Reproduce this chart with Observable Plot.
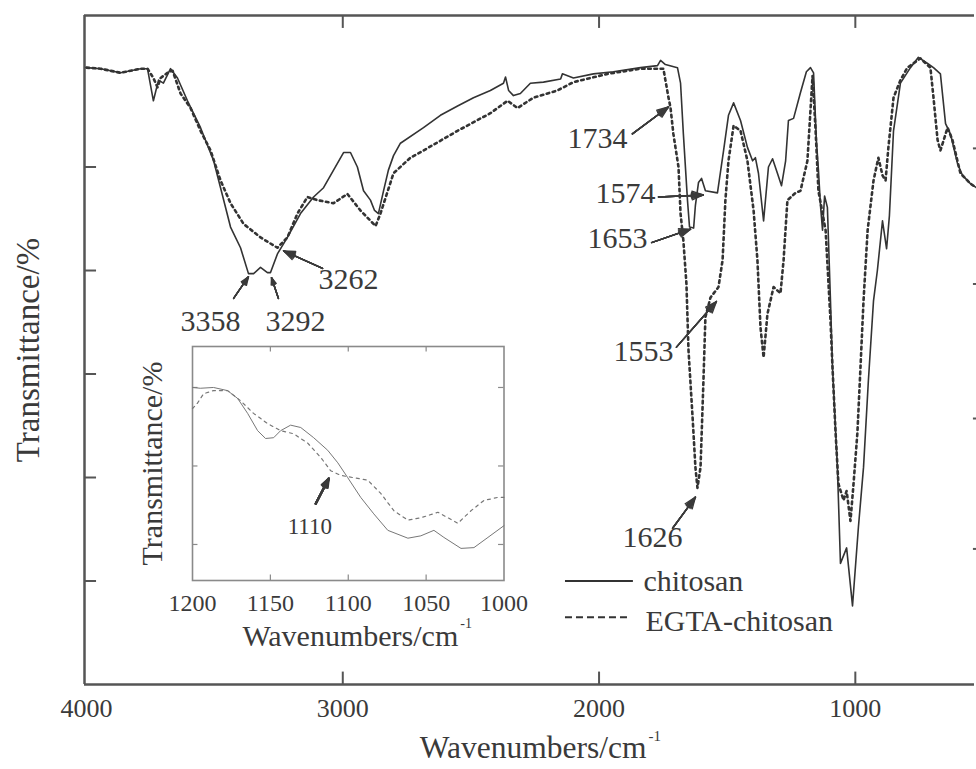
<!DOCTYPE html>
<html><head><meta charset="utf-8">
<script src="https://cdn.jsdelivr.net/npm/d3@7"></script>
<script src="https://cdn.jsdelivr.net/npm/@observablehq/plot@0.6"></script>
<style>
html,body{margin:0;padding:0;background:#fff;overflow:hidden}
#wrap{position:relative;width:976px;height:769px}
#inset{position:absolute;left:120px;top:330px}
</style></head><body>
<div id="wrap"><div id="main"></div><div id="inset"></div></div>
<script>
// ---- main spectrum data (wavenumber cm-1, transmittance a.u.) ----
const chitosanWn = [4000,3945,3867,3789,3762,3739,3719,3700,3672,3645,3606,3555,3504,3477,3438,3399,3368,3348,3321,3294,3282,3255,3216,3165,3114,3075,3036,2997,2970,2943,2919,2892,2876,2861,2841,2822,2802,2775,2685,2619,2552,2490,2424,2373,2365,2353,2334,2307,2268,2217,2150,2143,2100,2022,1944,1838,1772,1760,1741,1694,1682,1671,1655,1647,1631,1624,1612,1600,1585,1538,1514,1495,1475,1448,1421,1401,1390,1378,1358,1339,1323,1304,1288,1272,1261,1241,1214,1191,1175,1163,1152,1144,1136,1128,1120,1109,1097,1089,1070,1058,1034,1011,988,968,949,929,914,894,878,867,851,824,785,754,718,695,668,648,629,601,582,551,528];
const chitosanT = [59.6,59.5,59.1,59.5,59.5,56.4,58.4,58.1,59.5,58.6,56.4,53.8,50.6,48.0,44.2,42.2,39.7,39.7,40.3,39.8,39.8,41.6,43.2,45.5,47.1,48.0,49.7,51.4,51.4,50.0,47.7,46.8,45.8,45.5,47.7,49.7,51.1,52.3,53.8,55.0,55.9,56.7,57.4,58.1,58.7,57.4,56.9,57.1,58.1,58.2,58.5,59.0,58.6,59.0,59.2,59.6,59.8,60.3,59.9,59.6,58.1,53.2,46.8,44.2,44.1,46.3,48.5,48.9,47.7,47.5,51.6,55.0,56.2,54.5,51.9,50.6,50.9,49.4,44.8,50.0,50.8,49.4,48.2,50.6,54.5,54.7,57.2,59.2,59.6,59.1,52.6,49.7,46.3,43.9,47.2,46.1,37.1,30.6,21.0,11.7,13.2,7.6,15.2,21.0,29.4,37.1,40.0,44.8,42.1,45.3,53.5,58.1,59.6,60.6,60.0,59.6,59.0,54.2,53.2,50.3,49.2,48.4,48.0];
const egtaWn = [4000,3945,3867,3789,3762,3739,3723,3711,3684,3664,3633,3594,3555,3516,3477,3438,3387,3321,3255,3216,3177,3138,3099,3036,2982,2931,2872,2853,2802,2736,2685,2552,2424,2357,2318,2256,2162,2100,1967,1838,1749,1729,1721,1710,1690,1682,1671,1659,1651,1635,1624,1616,1604,1593,1585,1565,1534,1518,1507,1495,1475,1448,1421,1397,1382,1370,1358,1343,1319,1292,1280,1265,1233,1214,1187,1175,1167,1155,1144,1116,1097,1089,1077,1066,1046,1034,1019,1007,992,980,968,952,929,910,894,882,871,851,824,797,746,707,695,679,668,640,621,590,551,528];
const egtaT = [59.6,59.5,59.1,59.5,59.5,58.6,57.7,58.6,59.1,59.3,57.1,55.7,53.5,51.6,48.7,46.5,44.5,43.2,42.2,43.2,45.5,47.1,46.8,46.5,47.4,45.8,44.3,45.5,49.4,50.9,51.6,53.5,55.2,56.4,55.7,56.7,57.4,58.2,59.0,59.5,59.5,56.7,55.7,53.2,50.0,45.5,42.9,38.7,32.3,25.8,21.0,19.0,21.0,29.1,35.5,37.4,38.4,41.0,46.8,50.6,54.0,53.5,50.6,45.8,41.0,34.5,31.6,35.8,38.4,37.8,41.0,46.8,47.5,47.7,50.6,55.5,58.8,53.5,47.7,43.9,35.2,30.6,24.3,19.4,17.8,18.7,15.8,19.4,24.3,30.6,37.1,43.9,48.7,50.9,49.2,48.7,51.9,56.7,58.4,59.6,60.5,59.6,56.7,52.6,51.6,53.8,52.6,49.4,48.4,48.0];

// ---- inset data (1200-1000 cm-1) ----
const insetChitosanWn = [1200,1195,1186.5,1177.5,1171,1164.6,1158.2,1153.1,1147.9,1143.4,1137,1130.5,1122.2,1113.2,1106.7,1100.3,1092,1083.6,1074.6,1061.7,1053.4,1045,1038.6,1027.6,1019.3,1010.3,1000];
const insetChitosanT = [30.0,29.9,30.0,29.6,28.6,26.7,24.5,23.5,23.6,24.5,25.2,24.9,23.6,22.0,20.4,18.5,16.0,13.9,11.8,10.8,11.1,11.8,10.9,9.5,9.6,10.9,12.4];
const insetEgtaWn = [1200,1196.8,1192.9,1186.5,1177.5,1169.1,1160.8,1151.8,1143.4,1135,1126,1117.7,1111.3,1104.8,1096.5,1087.5,1079.1,1070.7,1061.7,1053.4,1042.4,1036,1029.6,1021.2,1012.9,1003.9,1000];
const insetEgtaT = [27.3,28.0,29.2,29.6,29.6,28.3,26.7,25.4,24.5,24.1,22.9,21.1,19.4,18.8,18.5,18.2,16.5,14.3,13.1,13.4,14.1,13.4,12.7,14.3,15.6,16.0,16.0];

// ---- ticks ----
const xTicks = [4000, 3000, 2000, 1000];
const innerXTicks = [3000, 2000, 1000];
const yTicks = [10, 20, 30, 40, 50];
const rightTicks = [13.1, 25.7, 38.7, 51.8];
const insetXTicks = [1200, 1150, 1100, 1050, 1000];
const insetInnerXTicks = [1150, 1100, 1050];
const insetYTicks = [10, 20, 30];

// ---- peak annotations (label anchor, arrow tail, arrow head) in data units ----
const peakLabels = ["3358", "3292", "3262", "1734", "1574", "1653", "1553", "1626"];
const labelWn = [3633, 3302, 3095, 2123, 2014, 2045, 1944, 1909];
const labelT = [34.2, 34.2, 38.2, 51.8, 46.5, 42.2, 31.3, 13.3];
const arrowFromWn = [3426, 3251, 3079, 1870, 1768, 1795, 1698, 1713];
const arrowFromT = [37.3, 37.3, 40.2, 53.2, 47.1, 42.7, 32.6, 15.1];
const arrowToWn = [3368, 3278, 3231, 1729, 1593, 1643, 1542, 1624];
const arrowToT = [39.4, 39.3, 41.9, 55.8, 47.3, 44.0, 37.0, 18.1];
const insetLabel = ["1110"];
const insetLabelWn = [1138.9], insetLabelT = [11.3];
const insetArrowFromWn = [1120.9], insetArrowFromT = [15.2];
const insetArrowToWn = [1112.5], insetArrowToT = [18.4];

const seriesNames = ["chitosan", "EGTA-chitosan"];

// ---- build ----
const zip = (w, t) => w.map((d, i) => ({wn: d, t: t[i]}));
const chitosan = zip(chitosanWn, chitosanT);
const egta = zip(egtaWn, egtaT);
const insetChitosan = zip(insetChitosanWn, insetChitosanT);
const insetEgta = zip(insetEgtaWn, insetEgtaT);
const labels = peakLabels.map((s, i) => ({s, wn: labelWn[i], t: labelT[i]}));
const arrows = peakLabels.map((s, i) => ({x1: arrowFromWn[i], y1: arrowFromT[i], x2: arrowToWn[i], y2: arrowToT[i]}));
const insetLabels = insetLabel.map((s, i) => ({s, wn: insetLabelWn[i], t: insetLabelT[i]}));
const insetArrows = insetLabel.map((s, i) => ({x1: insetArrowFromWn[i], y1: insetArrowFromT[i], x2: insetArrowToWn[i], y2: insetArrowToT[i]}));

const F = "'Liberation Serif', 'Times New Roman', serif";
const ink = "#3a3a3a";
const frameInk = "#555";
const X0 = 4000, X1 = 527.2, Y0 = 0, Y1 = 64.64;

const arrowStack = (data, sw, len) => [42, 30, 20, 12, 5].map(a =>
  Plot.arrow(data, {x1: "x1", y1: "y1", x2: "x2", y2: "y2", headAngle: a, headLength: len, stroke: ink, strokeWidth: sw}));

const main = Plot.plot({
  width: 976, height: 769,
  marginLeft: 86, marginRight: 0, marginTop: 15, marginBottom: 85,
  x: {domain: [X0, X1], axis: null},
  y: {domain: [Y0, Y1], axis: null},
  style: {fontFamily: F, background: "transparent", color: ink},
  marks: [
    // frame (left, top, bottom; right side lies beyond the picture)
    Plot.ruleY([Y1], {x1: X0, x2: X1, dx: -2, stroke: frameInk, strokeWidth: 2.5}),
    Plot.ruleY([Y0], {x1: X0, x2: X1, dx: -2, stroke: frameInk, strokeWidth: 2.5}),
    Plot.ruleX([X0], {y1: Y0, y2: Y1, dx: -2, stroke: frameInk, strokeWidth: 2.5}),
    // inward ticks
    Plot.ruleX(innerXTicks, {x: d => d, y1: Y0, y2: Y0 + 1.2, stroke: frameInk, strokeWidth: 2}),
    Plot.ruleX(innerXTicks, {x: d => d, y1: Y1, y2: Y1 - 1.25, stroke: frameInk, strokeWidth: 2}),
    Plot.ruleY(yTicks, {y: d => d, x1: X0, x2: X0 - 47, dx: -2, stroke: frameInk, strokeWidth: 2}),
    Plot.ruleY(rightTicks, {y: d => d, x1: X1, x2: X1 + 12, stroke: frameInk, strokeWidth: 2}),
    // tick labels
    Plot.text(xTicks, {x: d => d, text: d => String(d), frameAnchor: "bottom", dy: 32, lineAnchor: "bottom", fontSize: 26, fill: ink}),
    // spectra
    Plot.line(chitosan, {x: "wn", y: "t", stroke: "#333", strokeWidth: 1.6}),
    Plot.line(egta, {x: "wn", y: "t", stroke: "#333", strokeWidth: 2.6, strokeDasharray: "2.6,3.6"}),
    // peak annotations
    ...arrowStack(arrows, 1.4, 13),
    Plot.text(labels, {x: "wn", y: "t", text: "s", textAnchor: "start", lineAnchor: "bottom", fontSize: 30, fill: ink}),
    // legend
    Plot.ruleY([10.0], {x1: 2131, x2: 1866, stroke: "#333", strokeWidth: 1.8}),
    Plot.ruleY([6.5], {x1: 2131, x2: 1877, stroke: "#333", strokeWidth: 2, strokeDasharray: "7,4"}),
    Plot.text(seriesNames, {x: [1827, 1819], y: [9.0, 5.2], text: d => d, textAnchor: "start", lineAnchor: "bottom", fontSize: 30, fill: ink}),
    // axis titles
    Plot.text(["Transmittance/%"], {text: d => d, frameAnchor: "left", dx: -58, rotate: -90, fontSize: 33, textAnchor: "middle", lineAnchor: "middle", fill: ink}),
    Plot.text(["Wavenumbers/cm"], {text: d => d, frameAnchor: "bottom", dx: 115, dy: 73, textAnchor: "end", lineAnchor: "bottom", fontSize: 31.5, fill: ink}),
    Plot.text(["-1"], {text: d => d, frameAnchor: "bottom", dx: 117, dy: 56, textAnchor: "start", lineAnchor: "bottom", fontSize: 15, fill: ink})
  ]
});
document.getElementById("main").append(main);

const IY0 = 5.41, IY1 = 35.22;
const insetInk = "#8a8a8a";
const inset = Plot.plot({
  width: 420, height: 330,
  marginLeft: 72, marginRight: 36.5, marginTop: 16, marginBottom: 80,
  x: {domain: [1200, 1000], axis: null},
  y: {domain: [IY0, IY1], axis: null},
  style: {fontFamily: F, background: "transparent", color: ink},
  marks: [
    Plot.frame({stroke: insetInk, strokeWidth: 1.6}),
    Plot.ruleX(insetInnerXTicks, {x: d => d, y1: IY0, y2: IY0 + 0.7, stroke: insetInk, strokeWidth: 1.2}),
    Plot.ruleX(insetInnerXTicks, {x: d => d, y1: IY1, y2: IY1 - 0.7, stroke: insetInk, strokeWidth: 1.2}),
    Plot.ruleY(insetYTicks, {y: d => d, x1: 1200, x2: 1196.5, stroke: insetInk, strokeWidth: 1.2}),
    Plot.ruleY(insetYTicks, {y: d => d, x1: 1000, x2: 1003.5, stroke: insetInk, strokeWidth: 1.2}),
    Plot.line(insetChitosan, {x: "wn", y: "t", stroke: "#777", strokeWidth: 1}),
    Plot.line(insetEgta, {x: "wn", y: "t", stroke: "#777", strokeWidth: 1.2, strokeDasharray: "3,4"}),
    ...arrowStack(insetArrows, 2.2, 9),
    Plot.text(insetLabels, {x: "wn", y: "t", text: "s", textAnchor: "start", lineAnchor: "bottom", fontSize: 23, fill: ink}),
    Plot.text(insetXTicks, {x: d => d, text: d => String(d), frameAnchor: "bottom", dy: 30, lineAnchor: "bottom", fontSize: 24, fill: ink}),
    Plot.text(["Transmittance/%"], {text: d => d, frameAnchor: "left", dx: -40, rotate: -90, fontSize: 30, textAnchor: "middle", lineAnchor: "middle", fill: ink}),
    Plot.text(["Wavenumbers/cm"], {text: d => d, frameAnchor: "bottom", dx: 110, dy: 65, textAnchor: "end", lineAnchor: "bottom", fontSize: 30, fill: ink}),
    Plot.text(["-1"], {text: d => d, frameAnchor: "bottom", dx: 112, dy: 47, textAnchor: "start", lineAnchor: "bottom", fontSize: 14, fill: ink})
  ]
});
document.getElementById("inset").append(inset);
</script></body></html>
